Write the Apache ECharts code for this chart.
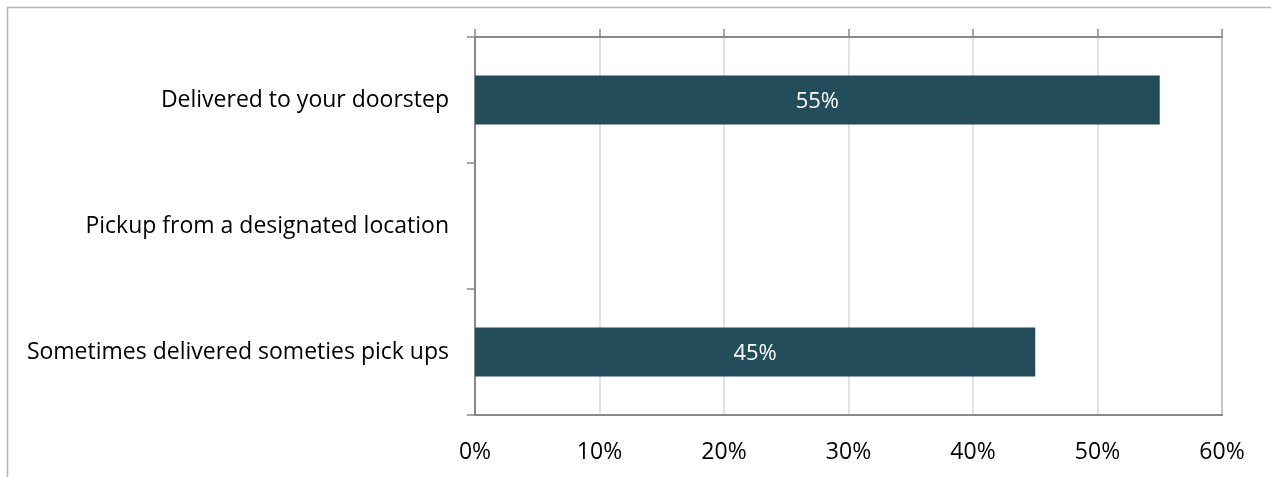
<!DOCTYPE html>
<html>
<head>
<meta charset="utf-8">
<script src="https://cdn.jsdelivr.net/npm/echarts@6/dist/echarts.min.js"></script>
<style>
html,body{margin:0;padding:0;background:#fff;}
#chart{width:1271px;height:477px;}
</style>
</head>
<body>
<div id="chart"></div>
<script>
const categories = ["Delivered to your doorstep", "Pickup from a designated location", "Sometimes delivered someties pick ups"];
const values = [55, 0, 45];
const xMin = 0, xMax = 60, xStep = 10;

const FONT = "Open Sans";
const chart = echarts.init(document.getElementById('chart'), null, {renderer: 'canvas'});
chart.setOption({
  animation: false,
  backgroundColor: '#fff',
  graphic: [{
    type: 'rect', silent: true,
    shape: {x: 7.5, y: 7.5, width: 1400, height: 600},
    style: {fill: 'none', stroke: '#b4b4b4', lineWidth: 1.5}
  }],
  grid: {left: 475, right: 49, top: 37, bottom: 62, containLabel: false,
         show: true, borderColor: '#898989', borderWidth: 2, backgroundColor: 'transparent'},
  xAxis: [{
    type: 'value', min: xMin, max: xMax, interval: xStep, position: 'bottom',
    axisLine: {show: true, lineStyle: {color: '#898989', width: 2}},
    axisTick: {show: false},
    splitLine: {show: true, lineStyle: {color: '#d9d9d9', width: 1.5}},
    axisLabel: {formatter: v => v + '%', color: '#000', fontFamily: FONT, fontSize: 23, margin: 26}
  }, {
    type: 'value', min: xMin, max: xMax, interval: xStep, position: 'top',
    axisLine: {show: true, lineStyle: {color: '#898989', width: 2}},
    axisTick: {show: true, inside: false, length: 8, lineStyle: {color: '#898989', width: 1.5}},
    splitLine: {show: false},
    axisLabel: {show: false}
  }],
  yAxis: {
    type: 'category', data: categories, inverse: true,
    axisLine: {show: true, lineStyle: {color: '#898989', width: 2}},
    axisTick: {show: true, length: 8, lineStyle: {color: '#898989', width: 1.5}},
    axisLabel: {color: '#000', fontFamily: FONT, fontSize: 23, margin: 26, padding: [3, 0, 0, 0]}
  },
  series: [{
    type: 'bar', data: values, xAxisIndex: 0, barWidth: 49,
    itemStyle: {color: '#234d5b'},
    label: {show: true, position: 'inside', offset: [0, 2], color: '#fff', fontFamily: FONT, fontSize: 22,
            formatter: p => p.value ? p.value + '%' : ''}
  }]
});
</script>
</body>
</html>
